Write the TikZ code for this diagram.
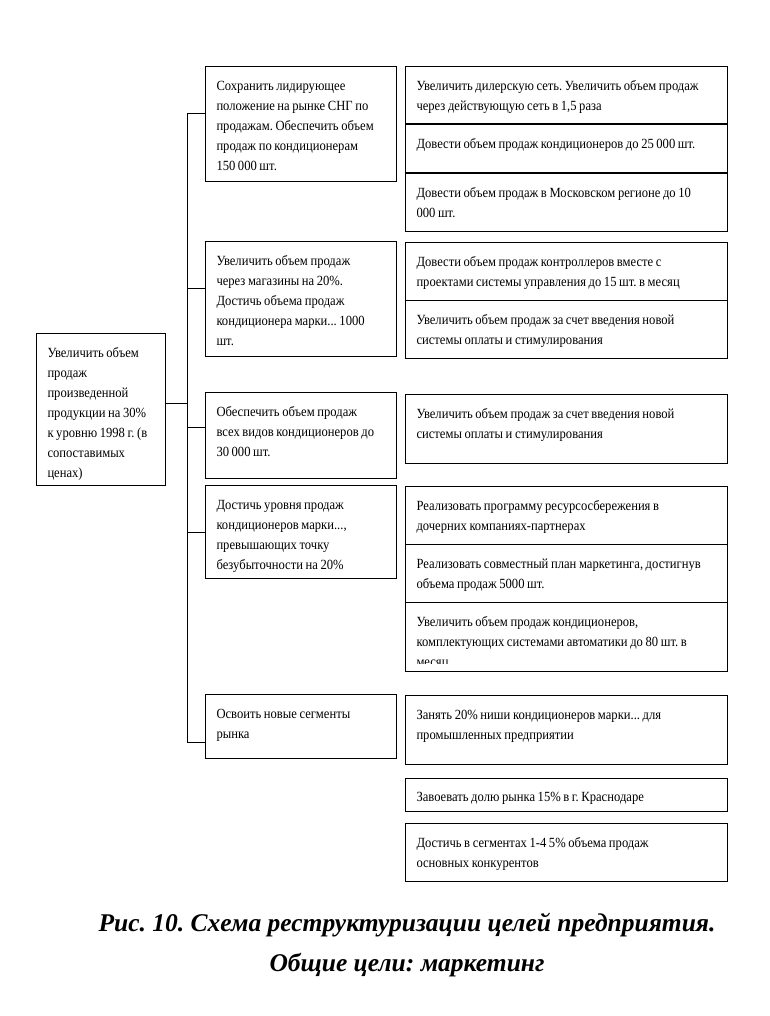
\documentclass[tikz,border=0pt]{standalone}
\usepackage{fontspec}
\setmainfont{Liberation Serif}[FakeStretch=0.9]
\newfontfamily\capfont{Liberation Serif}
\usetikzlibrary{positioning}
\frenchspacing

\begin{document}
\begin{tikzpicture}[x=1pt, y=-1pt, line width=1pt,
  box/.style={draw, align=left, anchor=north west, inner xsep=11pt, inner ysep=0pt, text height=24pt, font=\fontsize{14}{20}\selectfont, execute at begin node={\spaceskip=2.6pt plus 1pt minus 0.5pt\relax}},
  root/.style={box, text width=107pt},
  goal/.style={box, text width=169pt},
  task/.style={box, text width=300pt}]
\useasboundingbox (0,0) rectangle (769,1016);

% Root goal
\node[root, text depth=128pt] (main) at (36,333) {Увеличить объем\\продаж\\произведенной\\продукции на 30\%\\к уровню 1998 г. (в\\сопоставимых\\ценах)};

% Goals
\node[goal, text depth=91pt] (goal1) at (205,66) {Сохранить лидирующее\\положение на рынке СНГ по\\продажам. Обеспечить объем\\продаж по кондиционерам\\150 000 шт.};
\node[goal, text depth=91pt] (goal2) [below=59pt of goal1] {Увеличить объем продаж\\через магазины на 20\%.\\Достичь объема продаж\\кондиционера марки... 1000\\шт.};
\node[goal, text depth=62pt] (goal3) [below=35pt of goal2] {Обеспечить объем продаж\\всех видов кондиционеров до\\30 000 шт.};
\node[goal, text depth=69pt] (goal4) [below=6pt of goal3] {Достичь уровня продаж\\кондиционеров марки...,\\превышающих точку\\безубыточности на 20\%};
\node[goal, text depth=40pt] (goal5) [below=115pt of goal4] {Освоить новые сегменты\\рынка};

% Tasks
\node[task, text depth=33pt] (task1a) at (405,66) {Увеличить дилерскую сеть. Увеличить объем продаж\\через действующую сеть в 1,5 раза};
\node[task, text depth=24pt] (task1b) [below=0pt of task1a] {Довести объем продаж кондиционеров до 25 000 шт.};
\node[task, text depth=34pt] (task1c) [below=0pt of task1b] {Довести объем продаж в Московском регионе до 10\\000 шт.};
\node[task, text depth=34pt] (task2a) [below=10pt of task1c] {Довести объем продаж контроллеров вместе с\\проектами системы управления до 15 шт. в месяц};
\node[task, text depth=34pt] (task2b) [below=-1pt of task2a] {Увеличить объем продаж за счет введения новой\\системы оплаты и стимулирования};
\node[task, text depth=45pt] (task3) [below=35pt of task2b] {Увеличить объем продаж за счет введения новой\\системы оплаты и стимулирования};
\node[task, text depth=34pt] (task4a) [below=22pt of task3] {Реализовать программу ресурсосбережения в\\дочерних компаниях-партнерах};
\node[task, text depth=34pt] (task4b) [below=-1pt of task4a] {Реализовать совместный план маркетинга, достигнув\\объема продаж 5000 шт.};
\node[task, text depth=45pt] (task4c) [below=-1pt of task4b] {Увеличить объем продаж кондиционеров,\\комплектующих системами автоматики до 80 шт. в\\месяц};
\node[task, text depth=45pt] (task5a) [below=23pt of task4c] {Занять 20\% ниши кондиционеров марки... для\\промышленных предприятии};
\node[task, text height=23pt, text depth=10pt] (task5b) [below=13pt of task5a] {Завоевать долю рынка 15\% в г. Краснодаре};
\node[task, text depth=34pt] (task5c) [below=11pt of task5b] {Достичь в сегментах 1-4 5\% объема продаж\\основных конкурентов};

% last line of task4c is cut by its frame
\fill[white] ([shift={(1pt,1pt)}]task4c.south west) rectangle ([shift={(-1pt,8pt)}]task4c.south east);

% Connectors
\coordinate (bus) at (187,0);
\coordinate (c0) at ([yshift=6pt]main.east);
\coordinate (c1) at ([yshift=10.5pt]goal1.west);
\coordinate (c2) at ([yshift=11pt]goal2.west);
\coordinate (c3) at ([yshift=8pt]goal3.west);
\coordinate (c4) at (goal4.west);
\coordinate (c5) at ([yshift=-15.5pt]goal5.west);
\draw (c1) -- (c1 -| bus) -- (c5 -| bus) -- (c5);
\draw (c0) -- (c0 -| bus);
\draw (c2) -- (c2 -| bus);
\draw (c3) -- (c3 -| bus);
\draw (c4) -- (c4 -| bus);

% Caption
\node[font=\capfont\fontsize{25.5}{40}\bfseries\itshape\selectfont, align=center] (caption) at (407,945) {Рис. 10. Схема реструктуризации целей предприятия.\\Общие цели: маркетинг};

\end{tikzpicture}
\end{document}
